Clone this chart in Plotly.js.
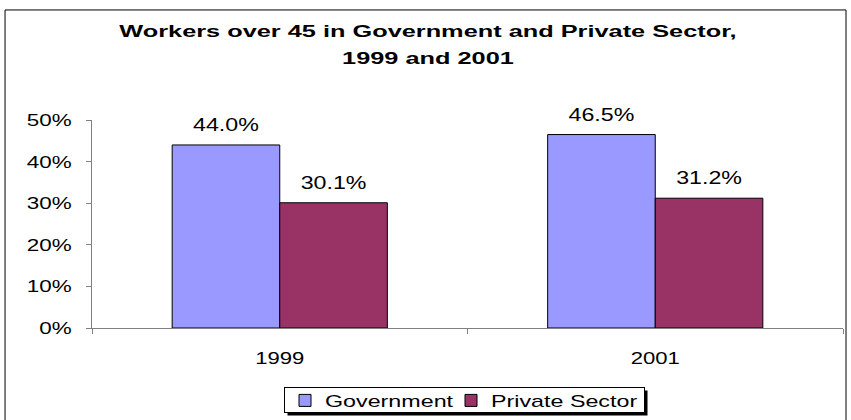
<!DOCTYPE html>
<html>
<head>
<meta charset="utf-8">
<script src="https://cdn.plot.ly/plotly-3.0.1.min.js"></script>
<style>html,body{margin:0;padding:0;background:#fff;} #chart{width:851px;height:420px;}</style>
</head>
<body>
<div id="chart"></div>
<script>
var years = ['1999', '2001'];
var government = [0.440, 0.465];
var privateSector = [0.301, 0.312];
var seriesNames = ['Government', 'Private Sector'];

var FONT = 'Arial, Liberation Sans, sans-serif';

function barTrace(name, vals, color, lw) {
  return {type:'bar', name:name, x:years, y:vals,
    marker:{color:color, line:{color:'#000', width:1}},
    texttemplate:'%{y:.1%}', textposition:'outside', cliponaxis:false,
    textfont:{family:FONT, size:18, color:'#000'}, hoverinfo:'none',
    legendwidth:lw};
}
var traces = [
  barTrace(seriesNames[0], government, '#9999FF', 121),
  barTrace(seriesNames[1], privateSector, '#993366', 148)
];

var layout = {
  width:851, height:420,
  margin:{l:92, r:8, t:120, b:92, autoexpand:false},
  paper_bgcolor:'#fff', plot_bgcolor:'#fff',
  font:{family:FONT, size:17, color:'#000'},
  title:{text:'<b><span style="font-size:17px">Workers over 45 in Government and Private Sector,</span><br><span style="font-size:17px">1999 and 2001</span></b>',
         font:{family:FONT, size:21.5, color:'#000'},
         x:428/851, xref:'container', xanchor:'center', y:0.913, yref:'container', yanchor:'middle'},
  barmode:'group', bargap:0.427, bargroupgap:0,
  xaxis:{type:'category', showline:true, linecolor:'#808080', linewidth:1, ticks:'outside', tickson:'boundaries',
         ticklen:5, tickcolor:'#808080', showgrid:false, zeroline:false, tickfont:{size:17},
         ticklabelstandoff:15, fixedrange:true},
  yaxis:{range:[0,0.5], dtick:0.1, tickformat:'.0%', showline:true, linecolor:'#808080', linewidth:1,
         ticks:'outside', ticklen:5, tickcolor:'#808080', showgrid:false, zeroline:false, tickfont:{size:17},
         ticklabelstandoff:11, fixedrange:true},
  showlegend:true,
  legend:{orientation:'h', x:(284-92)/751, xanchor:'left', y:-(418.5-328)/208, yanchor:'bottom', bgcolor:'#fff',
          bordercolor:'#000', borderwidth:1, font:{size:16}, itemwidth:30, traceorder:'normal',
          entrywidthmode:'pixels'},
  shapes:[
    {type:'rect', xref:'paper', yref:'paper', x0:-0.1158, x1:1.004, y0:-0.47, y1:1.529,
     line:{color:'#000', width:1}, fillcolor:'rgba(0,0,0,0)', layer:'below'}
  ]
};

function stretch(el, s, anchor, dy) {
  var b = el.getBBox();
  var ax = anchor === 'start' ? b.x : (anchor === 'end' ? b.x + b.width : b.x + b.width / 2);
  var t = el.getAttribute('transform') || '';
  el.setAttribute('transform', t + ' translate(' + ax + ',' + (dy || 0) + ') scale(' + s + ',1) translate(' + (-ax) + ',0)');
}

var BOX_H = 26;
function tightenLegend(gd) {
  var bg = gd.querySelector('.legend .bg');
  if (!bg) return null;
  var h = parseFloat(bg.getAttribute('height'));
  var y = parseFloat(bg.getAttribute('y'));
  if (h > BOX_H) {
    var d = (h - BOX_H) / 2;
    bg.setAttribute('y', y + d);
    bg.setAttribute('height', BOX_H - 1);
  }
  return bg;
}

Plotly.newPlot('chart', traces, layout, {displayModeBar:false, staticPlot:true}).then(function(gd){
  var bg = tightenLegend(gd);
  var fs = gd._fullLayout._size;
  var c = gd.getBoundingClientRect();
  function px2x(p){ return (p - c.left - fs.l)/fs.w; }
  function py2y(p){ return 1 - (p - c.top - fs.t)/fs.h; }
  var shapes = layout.shapes.slice();
  if (bg) {
    var r = bg.getBoundingClientRect();
    var off = 3;
    shapes.push({type:'rect', xref:'paper', yref:'paper',
      x0:px2x(r.left+off), x1:px2x(r.right+off), y0:py2y(r.bottom+off), y1:py2y(r.top+off),
      line:{width:0}, fillcolor:'#000', layer:'above'});
  }
  return Plotly.relayout(gd, {shapes:shapes});
}).then(function(gd){
  gd = document.getElementById('chart');
  tightenLegend(gd);
  gd.querySelectorAll('.gtitle').forEach(function(el){ stretch(el, 1.49, 'middle'); });
  gd.querySelectorAll('g.ytick text').forEach(function(el){ stretch(el, 1.32, 'end'); });
  gd.querySelectorAll('g.xtick text').forEach(function(el){ stretch(el, 1.3, 'middle'); });
  gd.querySelectorAll('text.bartext').forEach(function(el){ stretch(el, 1.29, 'middle', -7); });
  gd.querySelectorAll('.legend text.legendtext').forEach(function(el){ stretch(el, 1.455, 'start'); });
});
</script>
</body>
</html>
